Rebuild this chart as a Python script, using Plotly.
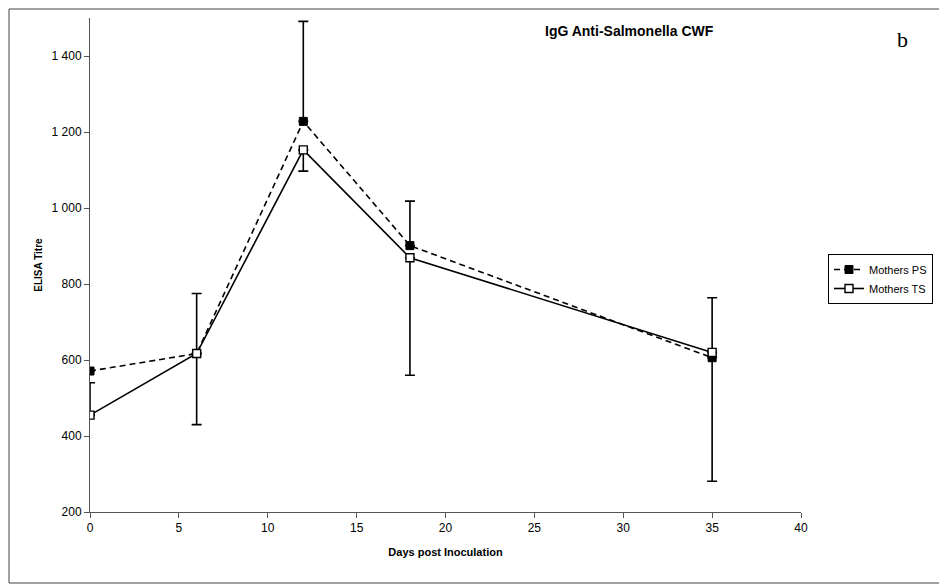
import plotly.graph_objects as go

days = [0, 6, 12, 18, 35]
ps_values = [571, 617, 1228, 901, 606]
ts_values = [455, 617, 1153, 869, 620]
ps_err_plus = [0, 158, 263, 117, 158]
ts_err_plus = [85, 0, 0, 0, 0]
ts_err_minus = [0, 187, 56, 309, 339]

y_ticks = [200, 400, 600, 800, 1000, 1200, 1400]
y_tick_labels = ["200", "400", "600", "800", "1 000", "1 200", "1 400"]
x_ticks = [0, 5, 10, 15, 20, 25, 30, 35, 40]

FONT = "Liberation Sans"
W, H = 947, 586
OFF = 8  # page body margin of the html page
# plot area in page pixels
PX0, PX1, PY0, PY1 = 90, 801, 18, 512


def px(x):
    return (x - PX0) / (PX1 - PX0)


def py(y):
    return (PY1 - y) / (PY1 - PY0)


fig = go.Figure()
fig.add_trace(go.Scatter(
    x=days, y=ps_values, name="Mothers PS", mode="lines+markers",
    line=dict(color="black", width=1.6, dash="6px,4px"),
    marker=dict(symbol="square", size=8, color="black", line=dict(color="black", width=1)),
    error_y=dict(type="data", symmetric=False, array=ps_err_plus, arrayminus=[0]*5,
                 color="black", thickness=1.6, width=5),
))
fig.add_trace(go.Scatter(
    x=days, y=ts_values, name="Mothers TS", mode="lines+markers",
    line=dict(color="black", width=1.6),
    marker=dict(symbol="square", size=8, color="white", line=dict(color="black", width=1.4)),
    error_y=dict(type="data", symmetric=False, array=ts_err_plus, arrayminus=ts_err_minus,
                 color="black", thickness=1.6, width=5),
))

fig.update_layout(
    width=W, height=H,
    margin=dict(l=PX0 - OFF, r=W - (PX1 - OFF), t=PY0 - OFF, b=H - (PY1 - OFF), autoexpand=False),
    paper_bgcolor="white", plot_bgcolor="white",
    font=dict(family=FONT, size=11, color="black"),
    showlegend=True,
    legend=dict(x=px(828), y=py(254), xanchor="left", yanchor="top",
                bordercolor="black", borderwidth=1, bgcolor="white",
                font=dict(size=11), tracegroupgap=0, itemwidth=30),
    xaxis=dict(range=[0, 40], tickvals=x_ticks, showgrid=False, zeroline=False,
               automargin=False,
               showline=True, linecolor="#555", linewidth=1,
               ticks="outside", ticklen=5, tickcolor="#555",
               tickfont=dict(size=12),
               title=dict(text="<b>Days post Inoculation</b>", font=dict(size=11), standoff=13)),
    yaxis=dict(range=[200, 1500], tickvals=y_ticks, ticktext=y_tick_labels,
               showgrid=False, zeroline=False, automargin=False,
               showline=True, linecolor="#555", linewidth=1,
               ticks="outside", ticklen=5, tickcolor="#555",
               tickfont=dict(size=12),
               title=dict(text="<b>ELISA Titre</b>", font=dict(size=10), standoff=7)),
    annotations=[
        dict(text="<b>IgG Anti-Salmonella CWF</b>", xref="paper", yref="paper",
             x=px(543), y=py(31), xanchor="left", yanchor="middle",
             showarrow=False, font=dict(size=14, family=FONT)),
        dict(text="b", xref="paper", yref="paper",
             x=px(902), y=py(40), xanchor="center", yanchor="middle",
             showarrow=False, font=dict(size=22, family="Liberation Serif")),
    ],
    shapes=[
        dict(type="rect", xref="paper", yref="paper",
             x0=px(OFF + 1), x1=px(943), y0=py(583), y1=py(OFF + 1),
             line=dict(color="#444", width=1)),
    ],
)

fig.write_html("out.html")
